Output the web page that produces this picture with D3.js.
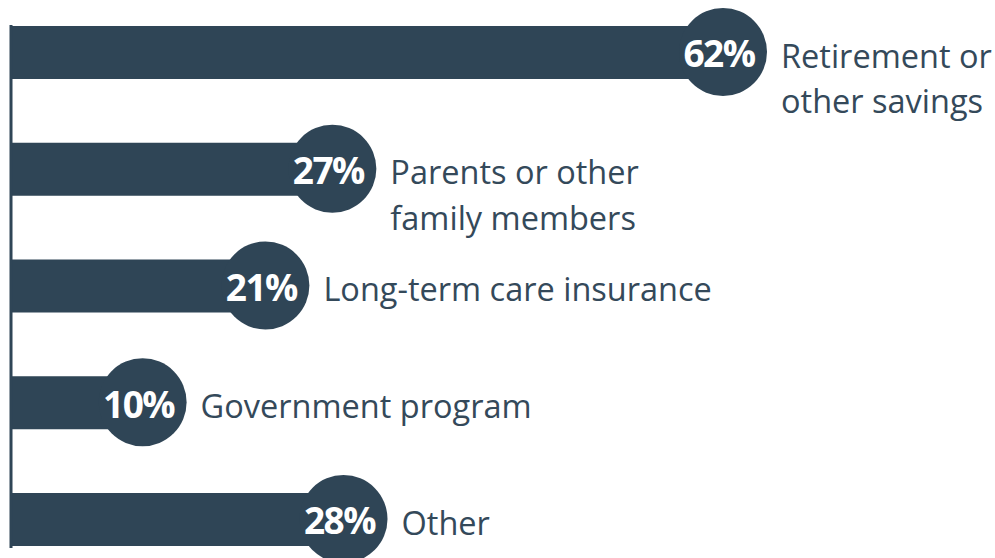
<!DOCTYPE html>
<html>
<head>
<meta charset="utf-8">
<script src="https://cdn.jsdelivr.net/npm/d3@7"></script>
<style>
  html, body { margin: 0; padding: 0; background: #fff; }
  svg { display: block; }
</style>
</head>
<body>
<div id="chart"></div>
<script>
var categories = [
  ["Retirement or", "other savings"],
  ["Parents or other", "family members"],
  ["Long-term care insurance"],
  ["Government program"],
  ["Other"]
];
var values = [62, 27, 21, 10, 28];

var width = 995;
var height = 558;
var barColor = "#2f4556";
var textColor = "#34495a";
var radius = 44;

var svg = d3.select("#chart").append("svg")
  .attr("width", width)
  .attr("height", height);

var x = d3.scaleLinear().domain([0, 62]).range([31, 723]);
var y = d3.scalePoint()
  .domain(d3.range(values.length))
  .range([52, 519]);

var rows = svg.selectAll(".row")
  .data(values)
  .enter()
  .append("g")
  .attr("class", "row")
  .attr("transform", function (d, i) {
    return "translate(0," + y(i) + ")";
  });

rows.append("rect")
  .attr("x", 10)
  .attr("y", -26)
  .attr("width", function (d) { return x(d) - 10; })
  .attr("height", 53)
  .attr("fill", barColor);

rows.append("circle")
  .attr("cx", function (d) { return x(d); })
  .attr("cy", 0)
  .attr("r", radius)
  .attr("fill", barColor);

rows.append("text")
  .attr("x", function (d) { return x(d) - 4; })
  .attr("y", 2)
  .attr("dy", "0.36em")
  .attr("text-anchor", "middle")
  .attr("fill", "#fff")
  .style("font-family", "'Open Sans', sans-serif")
  .style("font-weight", 700)
  .style("font-size", "37px")
  .style("letter-spacing", "-1.5px")
  .text(function (d) { return d + "%"; });

var labels = rows.append("text")
  .attr("x", function (d) { return x(d) + radius + 14; })
  .attr("y", 0)
  .attr("fill", textColor)
  .style("font-family", "'Open Sans', sans-serif")
  .style("font-size", "32.5px");

labels.selectAll("tspan")
  .data(function (d, i) { return categories[i]; })
  .enter()
  .append("tspan")
  .attr("x", function () { return d3.select(this.parentNode).attr("x"); })
  .attr("dy", function (d, j) { return j === 0 ? "0.48em" : "1.4em"; })
  .text(function (d) { return d; });

// vertical axis line
svg.append("line")
  .attr("x1", 11)
  .attr("x2", 11)
  .attr("y1", 25)
  .attr("y2", 548)
  .attr("stroke", barColor)
  .attr("stroke-width", 3);
</script>
</body>
</html>
